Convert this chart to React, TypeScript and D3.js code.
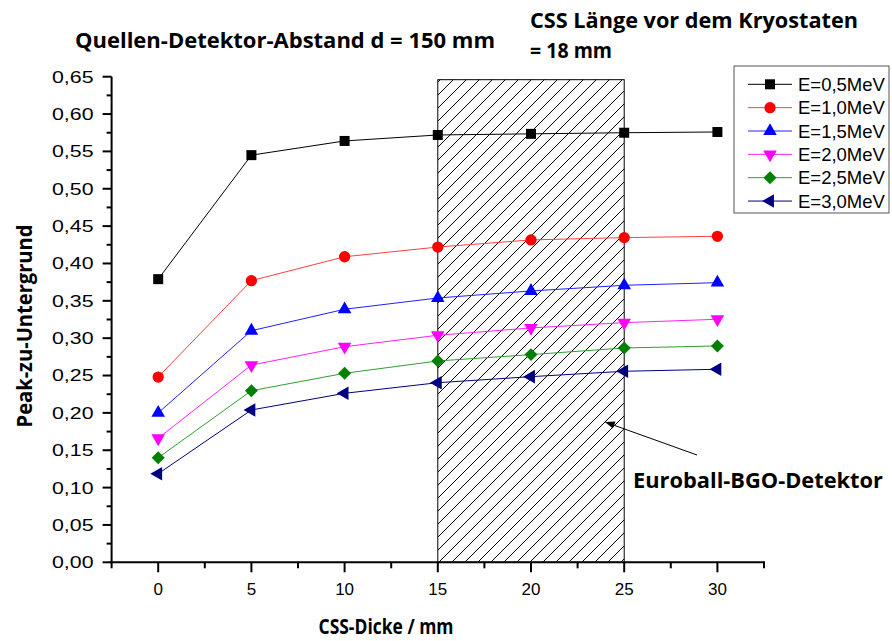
import React from "react";
import * as d3 from "d3";

const xValues = [0, 5, 10, 15, 20, 25, 30];
const seriesNames = ["E=0,5MeV", "E=1,0MeV", "E=1,5MeV", "E=2,0MeV", "E=2,5MeV", "E=3,0MeV"];
const e05 = [0.379, 0.545, 0.564, 0.572, 0.5735, 0.575, 0.576];
const e10 = [0.248, 0.377, 0.409, 0.422, 0.4315, 0.4346, 0.4364];
const e15 = [0.2, 0.31, 0.3387, 0.3538, 0.3632, 0.3708, 0.3743];
const e20 = [0.166, 0.264, 0.2886, 0.3039, 0.3137, 0.3208, 0.3253];
const e25 = [0.14, 0.2297, 0.253, 0.2695, 0.278, 0.2869, 0.2896];
const e30 = [0.1186, 0.2039, 0.2262, 0.2404, 0.2485, 0.2557, 0.2584];
const seriesValues = [e05, e10, e15, e20, e25, e30];
const seriesColors = ["#000000", "#ff0000", "#0000ff", "#ff00ff", "#008000", "#000080"];
const lineColors = ["#000000", "#ff4040", "#2020ff", "#ff20ff", "#30a030", "#000080"];
const xTicks = [0, 5, 10, 15, 20, 25, 30];
const xMinorTicks = [-2.5, 2.5, 7.5, 12.5, 17.5, 22.5, 27.5, 32.5];
const yTicks = [0, 0.05, 0.1, 0.15, 0.2, 0.25, 0.3, 0.35, 0.4, 0.45, 0.5, 0.55, 0.6, 0.65];
const yMinorTicks = [0.025, 0.075, 0.125, 0.175, 0.225, 0.275, 0.325, 0.375, 0.425, 0.475, 0.525, 0.575, 0.625];
const detectorRange = [15, 25];
const detectorTop = 0.646;

const W = 892;
const H = 641;

export default function App() {
  const x = d3.scaleLinear().domain([-2.5, 32.5]).range([111.6, 764]);
  const y = d3.scaleLinear().domain([0, 0.65]).range([562.3, 76.7]);
  const fmt = (v: number) => d3.format(".2f")(v).replace(".", ",");
  const line = d3
    .line<number>()
    .x((_, i) => x(xValues[i]))
    .y((d) => y(d));

  const sq = d3.symbol(d3.symbolSquare, 100)()!;
  const circ = d3.symbol(d3.symbolCircle, 100)()!;
  const tri = d3.symbol(d3.symbolTriangle, 80)()!;
  const dia = d3.symbol(d3.symbolSquare, 84)()!;
  const markers = [
    { d: sq, rot: 0 },
    { d: circ, rot: 0 },
    { d: tri, rot: 0 },
    { d: tri, rot: 180 },
    { d: dia, rot: 45 },
    { d: tri, rot: -90 },
  ];

  const tickFont = "'Liberation Sans', Arial, sans-serif";
  const boldFont = "'Open Sans', Lato, sans-serif";

  const legX = 734;
  const legY = 66;
  const rowY = (i: number) => 84.3 + i * 23.35;

  return (
    <svg width={W} height={H} style={{ position: "absolute", left: 0, top: 0, background: "#fff" }}>
      <defs>
        <pattern id="hatch" patternUnits="userSpaceOnUse" width={13} height={13}>
          <path d="M0,13 L13,0 M-3,3 L3,-3 M10,16 L16,10" stroke="#000" strokeWidth={1} />
        </pattern>
      </defs>
      <rect width={W} height={H} fill="#fff" />

      {/* detector region */}
      <rect
        x={x(detectorRange[0])}
        y={y(detectorTop)}
        width={x(detectorRange[1]) - x(detectorRange[0])}
        height={y(0) - y(detectorTop)}
        fill="url(#hatch)"
        stroke="#000"
        strokeWidth={1}
      />

      {/* series */}
      {seriesValues.map((vals, si) => (
        <path key={"l" + si} d={line(vals)!} fill="none" stroke={lineColors[si]} strokeWidth={1} />
      ))}
      {seriesValues.map((vals, si) =>
        vals.map((v, i) => (
          <path
            key={"m" + si + "-" + i}
            d={markers[si].d}
            transform={`translate(${x(xValues[i])},${y(v)}) rotate(${markers[si].rot})`}
            fill={seriesColors[si]}
          />
        ))
      )}

      {/* axes */}
      <line x1={x(-2.5)} x2={x(-2.5)} y1={y(0.65)} y2={y(0) + 1} stroke="#000" strokeWidth={2} />
      <line x1={x(-2.5) - 1} x2={x(32.5) + 1} y1={y(0)} y2={y(0)} stroke="#000" strokeWidth={2} />
      {yTicks.map((t) => (
        <g key={"yt" + t}>
          <line x1={x(-2.5) - 9} x2={x(-2.5)} y1={y(t)} y2={y(t)} stroke="#000" strokeWidth={2} />
          <text
            x={93.5}
            y={y(t)}
            dy="0.36em"
            textAnchor="end"
            fontFamily={tickFont}
            fontSize={16.5}
            fill="#000"
            textLength={41.5}
            lengthAdjust="spacingAndGlyphs"
          >
            {fmt(t)}
          </text>
        </g>
      ))}
      {yMinorTicks.map((t) => (
        <line key={"ym" + t} x1={x(-2.5) - 5} x2={x(-2.5)} y1={y(t)} y2={y(t)} stroke="#000" strokeWidth={2} />
      ))}
      {xTicks.map((t) => (
        <g key={"xt" + t}>
          <line x1={x(t)} x2={x(t)} y1={y(0)} y2={y(0) + 10} stroke="#000" strokeWidth={2} />
          <text x={x(t)} y={594.5} textAnchor="middle" fontFamily={tickFont} fontSize={17} fill="#000">
            {String(t)}
          </text>
        </g>
      ))}
      {xMinorTicks.map((t) => (
        <line key={"xm" + t} x1={x(t)} x2={x(t)} y1={y(0)} y2={y(0) + 6} stroke="#000" strokeWidth={2} />
      ))}

      {/* axis titles */}
      <text x={386} y={634} textAnchor="middle" fontFamily={boldFont} fontWeight="bold" fontSize={21.5} textLength={135} lengthAdjust="spacingAndGlyphs">
        CSS-Dicke / mm
      </text>
      <text
        transform="translate(32,326) rotate(-90)"
        textAnchor="middle"
        fontFamily={boldFont}
        fontWeight="bold"
        fontSize={22}
        textLength={203}
        lengthAdjust="spacingAndGlyphs"
      >
        Peak-zu-Untergrund
      </text>

      {/* titles */}
      <text x={75} y={48} fontFamily={boldFont} fontWeight="bold" fontSize={22} textLength={420} lengthAdjust="spacingAndGlyphs">
        Quellen-Detektor-Abstand d = 150 mm
      </text>
      <text x={530} y={28} fontFamily={boldFont} fontWeight="bold" fontSize={22} textLength={328} lengthAdjust="spacingAndGlyphs">
        CSS Länge vor dem Kryostaten
      </text>
      <text x={530} y={58} fontFamily={boldFont} fontWeight="bold" fontSize={22} textLength={82} lengthAdjust="spacingAndGlyphs">
        = 18 mm
      </text>

      {/* annotation */}
      <line x1={697} y1={455} x2={612} y2={424.5} stroke="#000" strokeWidth={1} />
      <path d="M605,422 L615.5,421.5 L612.8,428.5 Z" fill="#000" />
      <text x={633} y={488} fontFamily={boldFont} fontWeight="bold" fontSize={21.5} textLength={250} lengthAdjust="spacingAndGlyphs">
        Euroball-BGO-Detektor
      </text>

      {/* legend */}
      <rect x={legX} y={legY} width={155} height={147} fill="#fff" stroke="#555" strokeWidth={1} />
      {seriesNames.map((name, si) => (
        <g key={"lg" + si}>
          <line x1={748} x2={792} y1={rowY(si)} y2={rowY(si)} stroke={lineColors[si]} strokeWidth={1} />
          <path
            d={markers[si].d}
            transform={`translate(770,${rowY(si)}) rotate(${markers[si].rot})`}
            fill={seriesColors[si]}
          />
          <text x={798} y={rowY(si) + 6.5} fontFamily={tickFont} fontSize={18.5} fill="#000">
            {name}
          </text>
        </g>
      ))}
    </svg>
  );
}
